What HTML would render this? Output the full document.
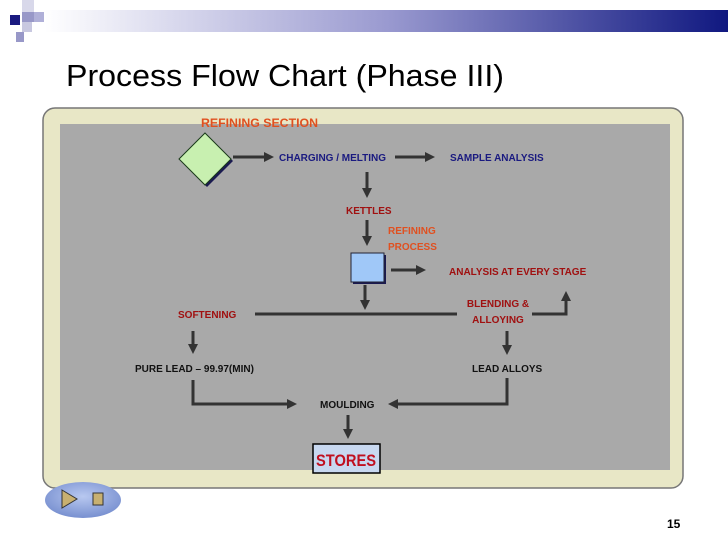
<!DOCTYPE html>
<html><head><style>
body{margin:0;background:#fff;width:728px;height:546px;overflow:hidden}
svg{display:block}
text{font-family:"Liberation Sans",sans-serif;font-weight:bold}
</style></head><body>
<svg width="728" height="546" viewBox="0 0 728 546">
<defs>
<linearGradient id="hb" x1="0" x2="1"><stop offset="0" stop-color="#ffffff"/><stop offset="0.5" stop-color="#9a9ad0"/><stop offset="1" stop-color="#101880"/></linearGradient>
<marker id="ah" markerWidth="10" markerHeight="10" refX="7" refY="5" orient="auto" markerUnits="userSpaceOnUse"><path d="M0,0 L10,5 L0,10 z" fill="#333"/></marker>
<radialGradient id="nav" cx="0.5" cy="0.4" r="0.6"><stop offset="0" stop-color="#b8c8f0"/><stop offset="1" stop-color="#7890d0"/></radialGradient>
</defs>
<rect x="45" y="10" width="683" height="22" fill="url(#hb)"/>
<rect x="10" y="15" width="10" height="10" fill="#1a1a80"/>
<rect x="22" y="0" width="12" height="12" fill="#d8d8ea"/>
<rect x="22" y="12" width="12" height="10" fill="#9898c8"/>
<rect x="34" y="12" width="10" height="10" fill="#b0b0d8"/>
<rect x="22" y="22" width="10" height="10" fill="#c8c8e0"/>
<rect x="16" y="32" width="8" height="10" fill="#9898c8"/>
<text x="66" y="86" font-size="31" fill="#000" style="font-weight:normal" textLength="438" lengthAdjust="spacingAndGlyphs">Process Flow Chart (Phase III)</text>
<rect x="43" y="108" width="640" height="380" rx="12" fill="#e8e7c6" stroke="#777" stroke-width="1.5"/>
<rect x="60" y="124" width="610" height="346" fill="#a9a9a9"/>
<g stroke="#333" stroke-width="3" fill="none">
<line x1="233" y1="157" x2="271" y2="157" marker-end="url(#ah)"/>
<line x1="395" y1="157" x2="432" y2="157" marker-end="url(#ah)"/>
<line x1="367" y1="172" x2="367" y2="195" marker-end="url(#ah)"/>
<line x1="367" y1="220" x2="367" y2="243" marker-end="url(#ah)"/>
<line x1="391" y1="270" x2="423" y2="270" marker-end="url(#ah)"/>
<line x1="365" y1="285" x2="365" y2="307" marker-end="url(#ah)"/>
<line x1="255" y1="314" x2="457" y2="314"/>
<polyline points="532,314 566,314 566,294" marker-end="url(#ah)"/>
<line x1="193" y1="331" x2="193" y2="351" marker-end="url(#ah)"/>
<line x1="507" y1="331" x2="507" y2="352" marker-end="url(#ah)"/>
<polyline points="193,380 193,404 294,404" marker-end="url(#ah)"/>
<polyline points="507,378 507,404 391,404" marker-end="url(#ah)"/>
<line x1="348" y1="415" x2="348" y2="436" marker-end="url(#ah)"/>
</g>
<polygon points="207,135 233,161 207,187 181,161" fill="#1a1a50"/>
<polygon points="205,133 231,159 205,185 179,159" fill="#c8f0b0" stroke="#1a3a1a" stroke-width="1"/>
<rect x="353" y="255" width="33" height="29" fill="#1a1a50"/>
<rect x="351" y="253" width="33" height="29" fill="#a0c8f8" stroke="#223" stroke-width="1"/>
<rect x="313" y="444" width="67" height="29" fill="#c8d8f0" stroke="#000" stroke-width="1.5"/>
<text x="201" y="127" font-size="12" fill="#e05020" textLength="117" lengthAdjust="spacingAndGlyphs">REFINING SECTION</text>
<text x="279" y="161" font-size="10" fill="#1a1a80">CHARGING / MELTING</text>
<text x="450" y="161" font-size="10" fill="#1a1a80">SAMPLE ANALYSIS</text>
<text x="346" y="214" font-size="10" fill="#a01010">KETTLES</text>
<text x="388" y="234" font-size="10" fill="#e05020">REFINING</text>
<text x="388" y="250" font-size="10" fill="#e05020">PROCESS</text>
<text x="449" y="275" font-size="10" fill="#a01010">ANALYSIS AT EVERY STAGE</text>
<text x="178" y="318" font-size="10" fill="#a01010">SOFTENING</text>
<text x="498" y="307" font-size="10" fill="#a01010" text-anchor="middle">BLENDING &amp;</text>
<text x="498" y="323" font-size="10" fill="#a01010" text-anchor="middle">ALLOYING</text>
<text x="135" y="372" font-size="10" fill="#111">PURE LEAD – 99.97(MIN)</text>
<text x="472" y="372" font-size="10" fill="#111">LEAD ALLOYS</text>
<text x="320" y="408" font-size="10" fill="#111">MOULDING</text>
<text x="316" y="466" font-size="17" fill="#c01020" textLength="60" lengthAdjust="spacingAndGlyphs">STORES</text>
<ellipse cx="83" cy="500" rx="38" ry="18" fill="url(#nav)"/>
<polygon points="62,490 77,499 62,508" fill="#c8b070" stroke="#333" stroke-width="1"/>
<rect x="93" y="493" width="10" height="12" fill="#c8b070" stroke="#333" stroke-width="1"/>
<text x="667" y="528" font-size="12" fill="#000">15</text>
</svg>
</body></html>
